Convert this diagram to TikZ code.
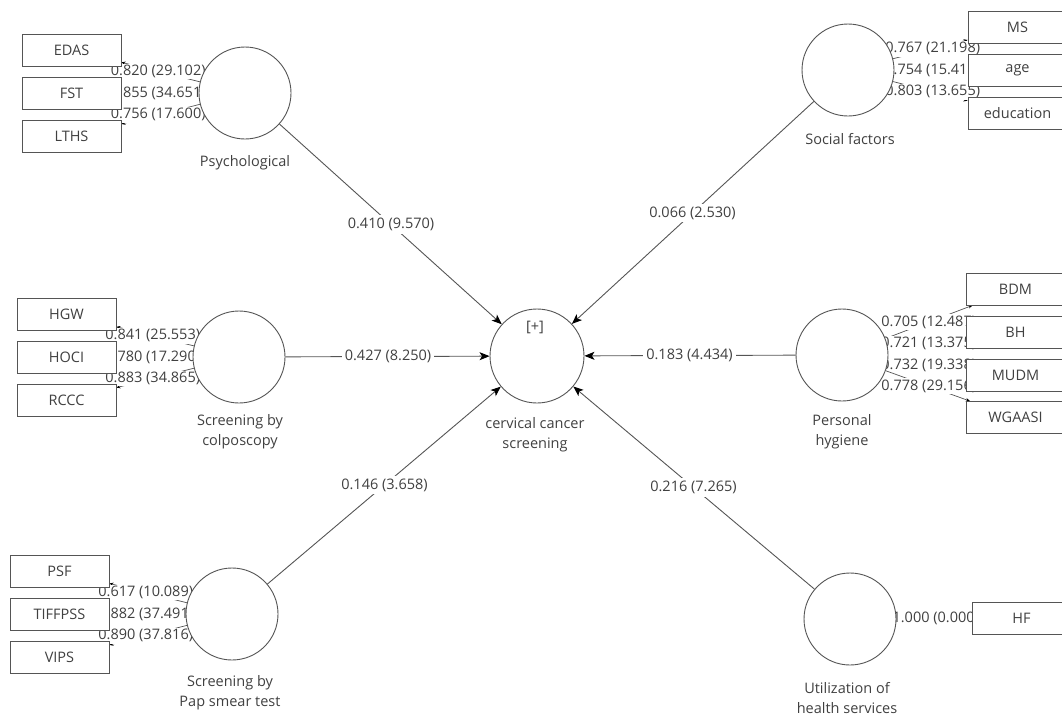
\documentclass[tikz,border=0pt]{standalone}
\usepackage{fontspec}
\setmainfont{Open Sans}
\usetikzlibrary{arrows.meta,calc}
\pgfdeclarelayer{back}
\pgfsetlayers{back,main}
\definecolor{txt}{RGB}{64,64,64}
\definecolor{ln}{RGB}{85,85,85}
\begin{document}
\begin{tikzpicture}[x=1pt,y=-1pt,
 every node/.style={font=\fontsize{14.5}{20}\selectfont, text=txt},
 lv/.style={circle, draw=ln, fill=white, line width=0.9pt, minimum size=92pt, inner sep=0pt},
 ind/.style={rectangle, draw=ln, fill=white, line width=0.9pt, minimum width=99pt, minimum height=32pt, inner sep=0pt},
 lvcap/.style={align=center},
 oarr/.style={draw=ln, line width=0.7pt, -{Stealth[length=4pt,width=3.5pt,color=black]}},
 sarr/.style={draw=ln, line width=0.9pt, -{Stealth[length=10pt,width=8pt,inset=2.5pt,color=black]}},
 val/.style={fill=white, inner sep=1.5pt},
 sval/.style={fill=white, inner sep=3pt},
]
\useasboundingbox (0,0) rectangle (1062,718);

% latent variables
\node[lv] (psy) at (245,93) {};
\node[lv] (soc) at (848,70) {};
\node[lv] (col) at (239,357) {};
\node[lv] (hyg) at (842,355) {};
\node[lv] (pap) at (232,614) {};
\node[lv] (uti) at (850,619) {};
\node[lv, minimum size=94pt] (ccs) at (537,356) {};
\node (plus) at (535,327) {[+]};

% captions
\node[lvcap] (cpsy) at (245,163) {Psychological};
\node[lvcap] (csoc) at (850,139) {Social factors};
\node[lvcap] (ccol) at (240,432) {Screening by\\colposcopy};
\node[lvcap] (chyg) at (842,432) {Personal\\hygiene};
\node[lvcap] (cccs) at (535,435) {cervical cancer\\screening};
\node[lvcap] (cpap) at (230,693) {Screening by\\Pap smear test};
\node[lvcap] (cuti) at (847,698) {Utilization of\\health services};

% indicators
\node[ind] (edas) at (71.5,50) {EDAS};
\node[ind] (fst) at (71.5,93) {FST};
\node[ind] (lths) at (71.5,136.5) {LTHS};
\node[ind] (hgw) at (66.5,314.5) {HGW};
\node[ind] (hoci) at (66.5,357) {HOCI};
\node[ind] (rccc) at (66.5,400) {RCCC};
\node[ind] (psf) at (59.5,571) {PSF};
\node[ind] (tif) at (59.5,614.5) {TIFFPSS};
\node[ind] (vips) at (59.5,657.5) {VIPS};
\node[ind] (ms) at (1017.5,27.5) {MS};
\node[ind] (age) at (1017.5,70) {age};
\node[ind] (edu) at (1017.5,113.5) {education};
\node[ind] (bdm) at (1015.5,289) {BDM};
\node[ind] (bh) at (1015.5,332) {BH};
\node[ind] (mudm) at (1015.5,375) {MUDM};
\node[ind] (wga) at (1015.5,417.5) {WGAASI};
\node[ind] (hf) at (1021.5,618.5) {HF};

\begin{pgfonlayer}{back}
% outer model
\foreach \a/\b/\v in {psy/edas/{0.820 (29.102)}, psy/fst/{0.855 (34.651)}, psy/lths/{0.756 (17.600)},
  col/hgw/{0.841 (25.553)}, col/hoci/{0.780 (17.290)}, col/rccc/{0.883 (34.865)},
  pap/psf/{0.617 (10.089)}, pap/tif/{0.882 (37.491)}, pap/vips/{0.890 (37.816)},
  soc/ms/{0.767 (21.198)}, soc/age/{0.754 (15.410)}, soc/edu/{0.803 (13.655)},
  hyg/bdm/{0.705 (12.487)}, hyg/bh/{0.721 (13.375)}, hyg/mudm/{0.732 (19.338)}, hyg/wga/{0.778 (29.156)},
  uti/hf/{1.000 (0.000)}}{
  \draw[oarr] (\a) -- (\b);
  \node[val] (l-\a-\b) at ($(\a.center)!0.5!(\b.center)$) {\v};
}
% inner model
\foreach \a/\v in {psy/{0.410 (9.570)}, soc/{0.066 (2.530)}, col/{0.427 (8.250)},
  hyg/{0.183 (4.434)}, pap/{0.146 (3.658)}, uti/{0.216 (7.265)}}{
  \draw[sarr] (\a) -- (ccs);
  \node[sval] (s-\a) at ($(\a.center)!0.5!(ccs.center)$) {\v};
}
\end{pgfonlayer}
\end{tikzpicture}
\end{document}
